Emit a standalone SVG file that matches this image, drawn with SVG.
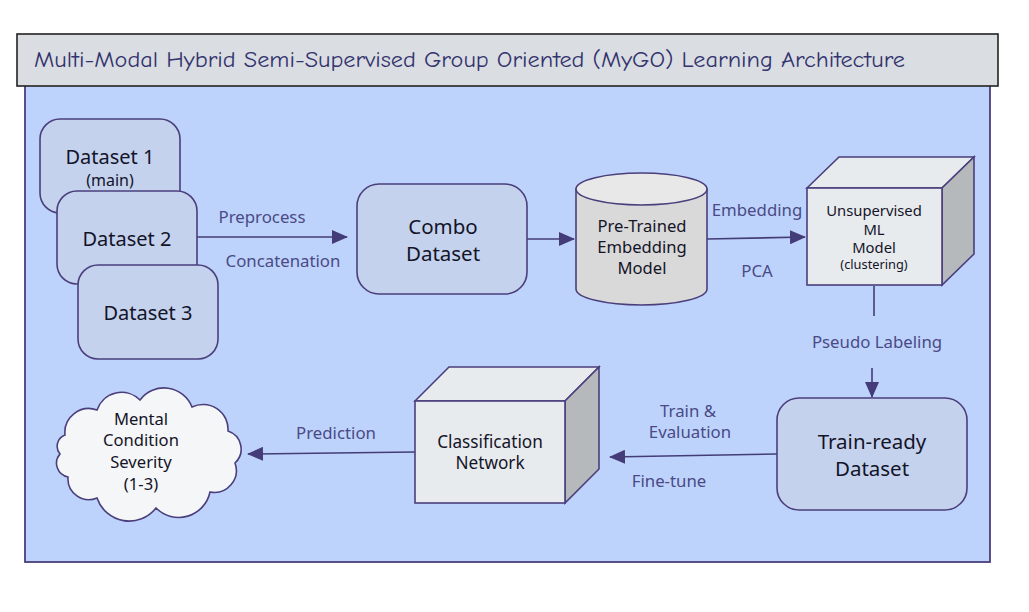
<svg xmlns="http://www.w3.org/2000/svg" width="1029" height="612" viewBox="0 0 1029 612">
<style>
.box{fill:#c4d2ee;stroke:#4a3f7c;stroke-width:1.6}
.t{font-family:"Noto Sans","Open Sans",sans-serif;fill:#141428;text-anchor:middle}
.lbl{font-family:"Noto Sans","Open Sans",sans-serif;fill:#4a4a86;font-size:16.8px;text-anchor:middle}
.edge{fill:none;stroke:#433c78;stroke-width:1.6}
.cf{fill:#e8ebee;stroke:#4a3f7c;stroke-width:1.6}
.cs{fill:#b6b9bc;stroke:#4a3f7c;stroke-width:1.6}
</style>
<defs>
<marker id="ah" markerUnits="userSpaceOnUse" markerWidth="16" markerHeight="14" refX="15" refY="7" orient="auto">
<path d="M0,0 L16,7 L0,14 Z" fill="#433c78"/>
</marker>
</defs>
<rect x="0" y="0" width="1029" height="612" fill="#ffffff"/>
<g id="container">
<rect x="25" y="70" width="965" height="492" fill="#bed3fc" stroke="#4a3f7c" stroke-width="1.8"/>
<rect x="17" y="34" width="981" height="52" fill="#dadde2" stroke="#222222" stroke-width="1.6"/>
<text x="34" y="67" font-family="'Comic Sans MS','Comic Neue','DejaVu Sans',sans-serif" font-size="22" fill="#33336e" textLength="871" lengthAdjust="spacingAndGlyphs">Multi-Modal Hybrid Semi-Supervised Group Oriented (MyGO) Learning Architecture</text>
</g>
<g id="connectors">
<path class="edge" d="M197,237 L347,237" marker-end="url(#ah)"/>
<path class="edge" d="M527,239 L574,239" marker-end="url(#ah)"/>
<path class="edge" d="M707,239 L805,237" marker-end="url(#ah)"/>
<path class="edge" d="M874,286 L874,316"/>
<path class="edge" d="M872,368 L872,397" marker-end="url(#ah)"/>
<path class="edge" d="M777,454 L610,457" marker-end="url(#ah)"/>
<path class="edge" d="M415,452 L248,454" marker-end="url(#ah)"/>
<text class="lbl" x="262" y="223">Preprocess</text>
<text class="lbl" x="283" y="267">Concatenation</text>
<text class="lbl" x="757" y="216">Embedding</text>
<text class="lbl" x="757" y="277">PCA</text>
<text class="lbl" x="877" y="348">Pseudo Labeling</text>
<text class="lbl" x="688" y="417">Train &amp;</text>
<text class="lbl" x="690" y="438">Evaluation</text>
<text class="lbl" x="669" y="487">Fine-tune</text>
<text class="lbl" x="336" y="439">Prediction</text>
</g>
<g id="dataset1">
<rect class="box" x="40" y="119" width="140" height="94" rx="20"/>
<text class="t" x="110" y="164" font-size="20">Dataset 1</text>
<text class="t" x="110" y="186" font-size="16">(main)</text>
</g>
<g id="dataset2">
<rect class="box" x="57" y="191" width="140" height="93" rx="20"/>
<text class="t" x="127" y="246" font-size="20">Dataset 2</text>
</g>
<g id="dataset3">
<rect class="box" x="78" y="265" width="140" height="94" rx="20"/>
<text class="t" x="148" y="320" font-size="20">Dataset 3</text>
</g>
<g id="combo">
<rect class="box" x="357" y="184" width="170" height="110" rx="22"/>
<text class="t" x="443" y="234" font-size="20.5">Combo</text>
<text class="t" x="443" y="261" font-size="20.5">Dataset</text>
</g>
<g id="pretrained">
<path d="M576,189 L576,289 A65.5,16 0 0 0 707,289 L707,189 Z" fill="#d9d9d9" stroke="#4a3f7c" stroke-width="1.6"/>
<ellipse cx="641.5" cy="189" rx="65.5" ry="16" fill="#e8e8e8" stroke="#4a3f7c" stroke-width="1.6"/>
<text class="t" x="642" y="232" font-size="16.6">Pre-Trained</text>
<text class="t" x="642" y="253" font-size="16.6">Embedding</text>
<text class="t" x="642" y="274" font-size="16.6">Model</text>
</g>
<g id="unsupervised">
<path class="cf" d="M807,188 L839,157 L974,157 L942,188 Z"/>
<path class="cs" d="M942,188 L974,157 L974,254 L942,285 Z"/>
<rect class="cf" x="807" y="188" width="135" height="97"/>
<text class="t" x="874" y="216" font-size="14.8">Unsupervised</text>
<text class="t" x="874" y="235" font-size="14.8">ML</text>
<text class="t" x="874" y="253" font-size="14.8">Model</text>
<text class="t" x="874" y="269" font-size="12.8">(clustering)</text>
</g>
<g id="trainready">
<rect class="box" x="777" y="398" width="190" height="112" rx="22"/>
<text class="t" x="872" y="449" font-size="20.5">Train-ready</text>
<text class="t" x="872" y="476" font-size="20.5">Dataset</text>
</g>
<g id="classification">
<path class="cf" d="M415,401 L449,367 L599,367 L565,401 Z"/>
<path class="cs" d="M565,401 L599,367 L599,469 L565,503 Z"/>
<rect class="cf" x="415" y="401" width="150" height="102"/>
<text class="t" x="490" y="448" font-size="17.2">Classification</text>
<text class="t" x="490" y="469" font-size="17.2">Network</text>
</g>
<g id="severity">
<path d="M60,454 A12,12 0 0 1 65,435 A24,24 0 0 1 97,410 A26,26 0 0 1 140,400 A30,30 0 0 1 192,407 A25,25 0 0 1 228,431 A19,19 0 0 1 235,463 A22,22 0 0 1 210,492 A32,32 0 0 1 156,508 A34,34 0 0 1 97,498 A21,21 0 0 1 68,477 A14,14 0 0 1 60,454 Z" fill="#f5f6f7" stroke="#4a3f7c" stroke-width="1.6"/>
<text class="t" x="141" y="425" font-size="16.6">Mental</text>
<text class="t" x="141" y="446" font-size="16.6">Condition</text>
<text class="t" x="141" y="468" font-size="16.6">Severity</text>
<text class="t" x="141" y="490" font-size="16.6">(1-3)</text>
</g>
</svg>
